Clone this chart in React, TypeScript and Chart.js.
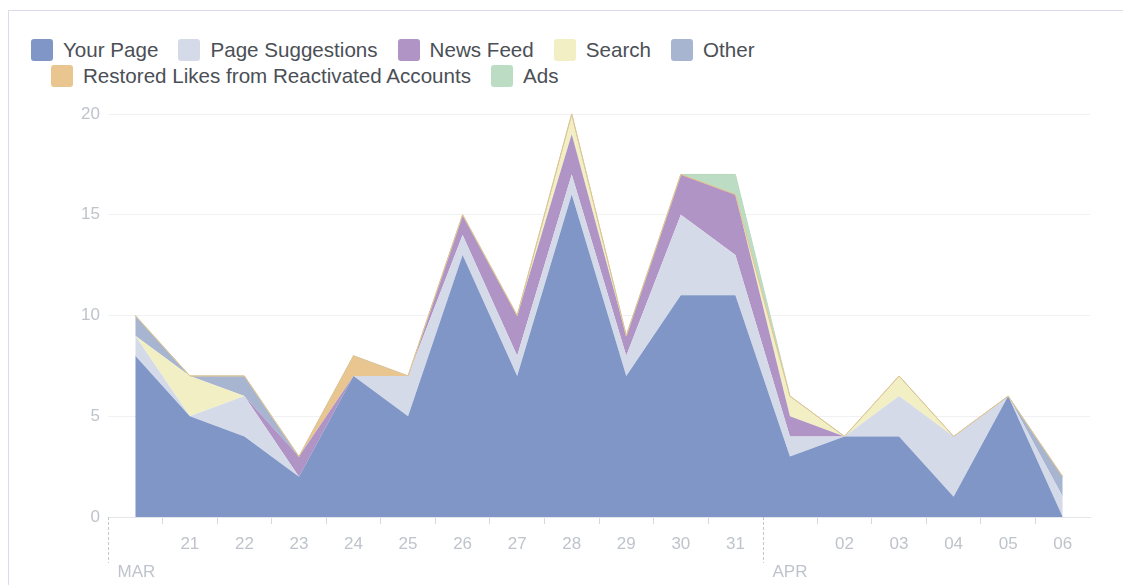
import React, { useEffect, useRef } from 'react';
import { Chart, registerables } from 'chart.js';

Chart.register(...registerables);

// ---- data ----
const categories = [
  'Mar 20', 'Mar 21', 'Mar 22', 'Mar 23', 'Mar 24', 'Mar 25', 'Mar 26', 'Mar 27', 'Mar 28',
  'Mar 29', 'Mar 30', 'Mar 31', 'Apr 01', 'Apr 02', 'Apr 03', 'Apr 04', 'Apr 05', 'Apr 06',
];
const xTickLabels = ['', '21', '22', '23', '24', '25', '26', '27', '28', '29', '30', '31', '', '02', '03', '04', '05', '06'];
const monthStartIndex = [0, 12];
const monthLabels = ['MAR', 'APR'];
const yTicks = [0, 5, 10, 15, 20];

const seriesNames = [
  'Your Page', 'Page Suggestions', 'News Feed', 'Search', 'Other',
  'Restored Likes from Reactivated Accounts', 'Ads',
];
const yourPage = [8, 5, 4, 2, 7, 5, 13, 7, 16, 7, 11, 11, 3, 4, 4, 1, 6, 0];
const pageSuggestions = [1, 0, 2, 0, 0, 2, 1, 1, 1, 1, 4, 2, 1, 0, 2, 3, 0, 1];
const newsFeed = [0, 0, 0, 1, 0, 0, 1, 2, 2, 1, 2, 3, 1, 0, 0, 0, 0, 0];
const search = [0, 2, 0, 0, 0, 0, 0, 0, 1, 0, 0, 0, 1, 0, 1, 0, 0, 0];
const other = [1, 0, 1, 0, 0, 0, 0, 0, 0, 0, 0, 0, 0, 0, 0, 0, 0, 1];
const restored = [0, 0, 0, 0, 1, 0, 0, 0, 0, 0, 0, 0, 0, 0, 0, 0, 0, 0];
const ads = [0, 0, 0, 0, 0, 0, 0, 0, 0, 0, 0, 1, 0, 0, 0, 0, 0, 0];

const seriesValues = [yourPage, pageSuggestions, newsFeed, search, other, restored, ads];
const seriesColors = ['#7f96c7', '#d5dae8', '#b094c5', '#f1efc3', '#a8b5d0', '#e9c690', '#bcdcc3'];
const seriesBorders = ['transparent', 'transparent', 'transparent', 'transparent', 'transparent', '#e8c08e', '#b8d9bf'];

const AXIS_TEXT = '#bfc3cb';
const FONT = "'Liberation Sans', Arial, sans-serif";

const monthMarkerPlugin = {
  id: 'monthMarkers',
  afterDraw(chart: any) {
    const xs = chart.scales.x;
    const area = chart.chartArea;
    const ctx = chart.ctx;
    const step = xs.getPixelForValue(1) - xs.getPixelForValue(0);
    ctx.save();
    ctx.strokeStyle = '#c3c6ce';
    ctx.lineWidth = 1;
    ctx.setLineDash([3, 2]);
    ctx.fillStyle = AXIS_TEXT;
    ctx.font = `17px ${FONT}`;
    ctx.textAlign = 'left';
    ctx.textBaseline = 'alphabetic';
    monthStartIndex.forEach((idx, k) => {
      const x = Math.round(xs.getPixelForValue(idx) - step / 2) + 0.5;
      ctx.beginPath();
      ctx.moveTo(x, area.bottom);
      ctx.lineTo(x, area.bottom + 46);
      ctx.stroke();
      ctx.fillText(monthLabels[k], x + 9, area.bottom + 60);
    });
    ctx.restore();
  },
};

function Legend() {
  const item = (i: number) => (
    <div key={i} style={{ display: 'flex', alignItems: 'center', marginRight: 20 }}>
      <span
        style={{
          width: 22,
          height: 22,
          borderRadius: 3,
          background: seriesColors[i],
          marginRight: 10,
          display: 'inline-block',
        }}
      />
      <span style={{ fontSize: 20.6, color: '#4b4f56', lineHeight: '22px', whiteSpace: 'nowrap' }}>{seriesNames[i]}</span>
    </div>
  );
  return (
    <div style={{ position: 'absolute', left: 31, top: 39, fontFamily: FONT }}>
      <div style={{ display: 'flex' }}>{[0, 1, 2, 3, 4].map(item)}</div>
      <div style={{ display: 'flex', marginLeft: 20, marginTop: 4 }}>{[5, 6].map(item)}</div>
    </div>
  );
}

export default function App() {
  const canvasRef = useRef<HTMLCanvasElement | null>(null);

  useEffect(() => {
    if (!canvasRef.current) return;
    const chart = new Chart(canvasRef.current, {
      type: 'line',
      data: {
        labels: categories,
        datasets: seriesValues.map((vals, i) => ({
          label: seriesNames[i],
          data: vals,
          backgroundColor: seriesColors[i],
          borderColor: seriesBorders[i],
          borderWidth: i >= 5 ? 1 : 0,
          fill: i === 0 ? 'origin' : '-1',
          pointRadius: 0,
          pointHoverRadius: 0,
          tension: 0,
        })),
      },
      options: {
        responsive: false,
        animation: false,
        layout: { padding: { left: 58, right: 33, top: 114, bottom: 0 } },
        plugins: {
          legend: { display: false },
          tooltip: { enabled: false },
          filler: { propagate: false, drawTime: 'beforeDatasetsDraw' },
        } as any,
        scales: {
          x: {
            type: 'category',
            offset: true,
            afterFit: (axis: any) => {
              axis.height = 68;
            },
            grid: {
              offset: true,
              drawOnChartArea: false,
              drawTicks: true,
              tickLength: 7,
              tickColor: (c: any) =>
                c.index === undefined || monthStartIndex.includes(c.index) ? 'rgba(0,0,0,0)' : '#d5d8de',
            },
            border: { display: true, color: '#e3e5e9' },
            ticks: {
              autoSkip: false,
              maxRotation: 0,
              padding: 10,
              color: AXIS_TEXT,
              font: { family: FONT, size: 17 },
              callback: (_v: any, i: number) => xTickLabels[i],
            },
          },
          y: {
            stacked: true,
            min: yTicks[0],
            max: yTicks[yTicks.length - 1],
            afterFit: (axis: any) => {
              axis.width = 50;
            },
            afterBuildTicks: (axis: any) => {
              axis.ticks = yTicks.map((v) => ({ value: v }));
            },
            grid: { color: '#f0f1f3', drawTicks: false },
            border: { display: false },
            ticks: {
              padding: 8,
              color: AXIS_TEXT,
              font: { family: FONT, size: 17 },
            },
          },
        },
      },
      plugins: [monthMarkerPlugin],
    });
    return () => chart.destroy();
  }, []);

  return (
    <div style={{ position: 'absolute', left: 0, top: 0, width: 1123, height: 585, overflow: 'hidden', background: '#fff' }}>
      <div
        style={{
          position: 'absolute',
          left: 8,
          top: 10,
          width: 1300,
          height: 800,
          border: '1px solid #dcdbeb',
          boxSizing: 'border-box',
        }}
      />
      <Legend />
      <canvas
        ref={canvasRef}
        width={1123}
        height={585}
        style={{ position: 'absolute', left: 0, top: 0, width: 1123, height: 585 }}
      />
    </div>
  );
}
